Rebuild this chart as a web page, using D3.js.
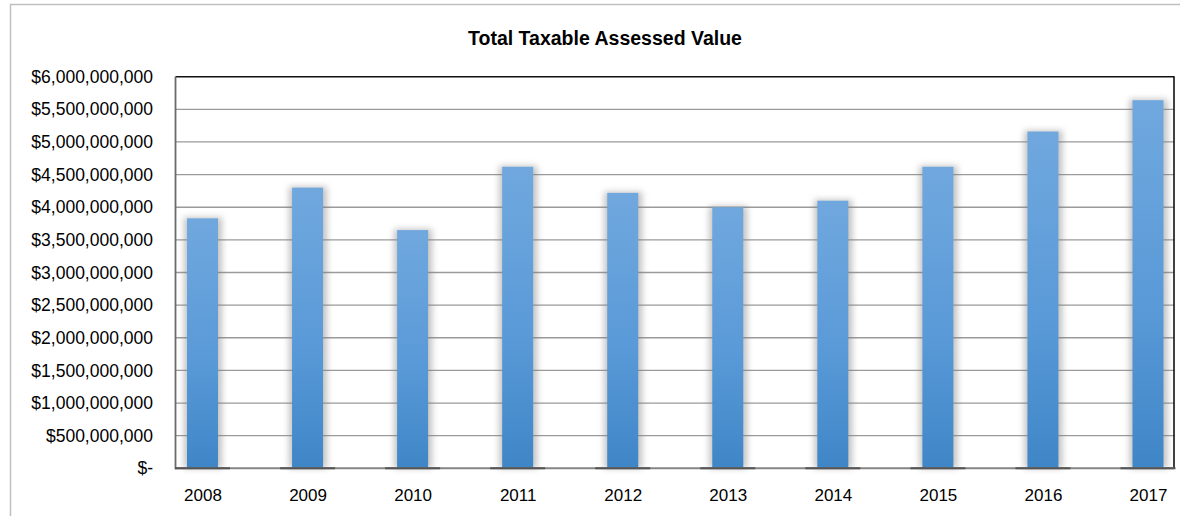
<!DOCTYPE html>
<html>
<head>
<meta charset="utf-8">
<script src="https://cdn.jsdelivr.net/npm/d3@7"></script>
<style>
  html, body { margin: 0; padding: 0; background: #fff; }
  svg { display: block; }
  text { font-family: "Liberation Sans", Arial, sans-serif; fill: #000; }
</style>
</head>
<body>
<svg id="chart" width="1180" height="516"></svg>
<script>
const title = "Total Taxable Assessed Value";
const years = ["2008","2009","2010","2011","2012","2013","2014","2015","2016","2017"];
const values = [3830000000, 4300000000, 3650000000, 4620000000, 4220000000, 4000000000, 4100000000, 4620000000, 5160000000, 5640000000];
const yTicks = [0, 500000000, 1000000000, 1500000000, 2000000000, 2500000000, 3000000000, 3500000000, 4000000000, 4500000000, 5000000000, 5500000000, 6000000000];

const svg = d3.select("#chart");
const W = 1180, H = 516;
const plot = { left: 175.5, right: 1174, top: 76.7, bottom: 468.3 };

const defs = svg.append("defs");
const grad = defs.append("linearGradient").attr("id", "barGrad")
  .attr("x1", 0).attr("y1", 0).attr("x2", 0).attr("y2", 1);
grad.append("stop").attr("offset", "0%").attr("stop-color", "#70a8de");
grad.append("stop").attr("offset", "55%").attr("stop-color", "#5a9ad8");
grad.append("stop").attr("offset", "100%").attr("stop-color", "#3f86c7");
const blur = defs.append("filter").attr("id", "shadow")
  .attr("x", "-50%").attr("y", "-10%").attr("width", "200%").attr("height", "120%");
blur.append("feGaussianBlur").attr("stdDeviation", 3);

// outer chart border
svg.append("path")
  .attr("d", `M10.5,${H + 2} L10.5,4.5 L${W + 2},4.5`)
  .attr("fill", "none").attr("stroke", "#c0c0c0").attr("stroke-width", 1.5);

const y = d3.scaleLinear().domain([0, 6000000000]).range([plot.bottom, plot.top]);
const x = d3.scalePoint().domain(years).range([202.5, 1148]);
const barW = 31;

// gridlines
svg.append("g").selectAll("line").data(yTicks.filter(d => d > 0 && d < 6000000000)).join("line")
  .attr("x1", plot.left).attr("x2", plot.right)
  .attr("y1", d => y(d)).attr("y2", d => y(d))
  .attr("stroke", "#9a9a9a").attr("stroke-width", 1.3);

// y axis labels
const fmt = d => d === 0 ? "$-" : "$" + d3.format(",")(d);
const yAxis = d3.axisLeft(y).tickValues(yTicks).tickFormat(fmt).tickSize(0).tickPadding(0);
const yg = svg.append("g").attr("transform", `translate(153,0)`).call(yAxis);
yg.select(".domain").remove();
yg.selectAll("text").attr("font-size", "17.5px").attr("font-family", "Liberation Sans, Arial, sans-serif").attr("fill", "#000");

// bar shadows
svg.append("g").selectAll("rect").data(values).join("rect")
  .attr("x", (d, i) => x(years[i]) - barW / 2 - 3)
  .attr("width", barW + 7)
  .attr("y", d => y(d) - 1)
  .attr("height", d => plot.bottom - y(d) + 1)
  .attr("fill", "#7a7a7a").attr("opacity", 0.45)
  .attr("filter", "url(#shadow)");

// bars
svg.append("g").selectAll("rect").data(values).join("rect")
  .attr("x", (d, i) => x(years[i]) - barW / 2)
  .attr("width", barW)
  .attr("y", d => y(d))
  .attr("height", d => plot.bottom - y(d))
  .attr("fill", "url(#barGrad)");

// plot area border: top & right dark, left gray
svg.append("line").attr("x1", plot.left).attr("x2", plot.right + 0.5)
  .attr("y1", plot.top).attr("y2", plot.top).attr("stroke", "#111").attr("stroke-width", 1.6);
svg.append("line").attr("x1", plot.right).attr("x2", plot.right)
  .attr("y1", plot.top).attr("y2", plot.bottom).attr("stroke", "#111").attr("stroke-width", 1.6);
svg.append("line").attr("x1", plot.left).attr("x2", plot.left)
  .attr("y1", plot.top).attr("y2", plot.bottom + 1).attr("stroke", "#6a6a6a").attr("stroke-width", 1.8);

// zero axis line
svg.append("line").attr("x1", plot.left).attr("x2", plot.right)
  .attr("y1", plot.bottom).attr("y2", plot.bottom).attr("stroke", "#858585").attr("stroke-width", 2);
// darker segments under bars
svg.append("g").selectAll("line").data(years).join("line")
  .attr("x1", d => x(d) - barW / 2 - 12).attr("x2", d => x(d) + barW / 2 + 12)
  .attr("y1", plot.bottom).attr("y2", plot.bottom)
  .attr("stroke", "#555").attr("stroke-width", 2);

// x axis labels
const xAxis = d3.axisBottom(x).tickSize(0).tickPadding(0);
const xg = svg.append("g").attr("transform", `translate(0,${plot.bottom})`).call(xAxis);
xg.select(".domain").remove();
xg.selectAll("text").attr("font-size", "17px").attr("font-family", "Liberation Sans, Arial, sans-serif")
  .attr("fill", "#000").attr("dy", "1.92em");

// title
svg.append("text").attr("x", 605).attr("y", 45).attr("text-anchor", "middle")
  .attr("font-size", "19.5px").attr("font-weight", "bold").text(title);
</script>
</body>
</html>
